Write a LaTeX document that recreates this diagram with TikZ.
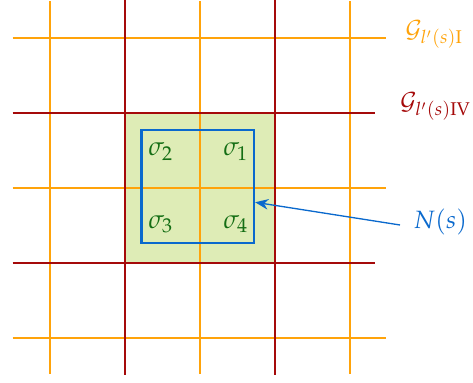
\documentclass[tikz,border=0pt]{standalone}
\usepackage{mathpazo}
\usetikzlibrary{arrows.meta}
\definecolor{gorange}{RGB}{255,163,10}
\definecolor{gred}{RGB}{165,10,10}
\definecolor{gfill}{RGB}{222,236,182}
\definecolor{nblue}{RGB}{10,105,205}
\definecolor{sgreen}{RGB}{20,110,20}
\tikzset{
  olines/.style={gorange, line width=0.85pt},
  rlines/.style={gred, line width=0.85pt},
  sig/.style={text=sgreen, inner sep=0pt},
  lbl/.style={inner sep=0pt, anchor=west},
}
\begin{document}
\begin{tikzpicture}
\useasboundingbox (-0.667,-0.587) rectangle (5.64,4.507);
% green square
\fill[gfill] (1,1) rectangle (3,3);
% orange grid
\foreach \v in {0,2,4} {
  \draw[olines] (\v,-0.48) -- (\v,4.49);
  \draw[olines] (-0.5,\v) -- (4.48,\v);
}
% red grid
\foreach \v in {1,3} {
  \draw[rlines] (\v,-0.49) -- (\v,4.51);
  \draw[rlines] (-0.5,\v) -- (4.33,\v);
}
% blue rect N(s)
\node[draw=nblue, line width=0.85pt, minimum width=1.5cm, minimum height=1.5cm, inner sep=0pt] (box) at (1.97,2.02) {};
\node[sig] (s2) at (1.48,2.49) {$\sigma_2$};
\node[sig] (s1) at (2.48,2.49) {$\sigma_1$};
\node[sig] (s3) at (1.48,1.52) {$\sigma_3$};
\node[sig] (s4) at (2.48,1.52) {$\sigma_4$};
% labels
\node[lbl, text=gorange, font=\fontsize{9}{11}\selectfont] (gI) at (4.73,4.05) {$\mathcal{G}_{l'(s)\mathrm{I}}$};
\node[lbl, text=gred, font=\fontsize{9}{11}\selectfont] (gIV) at (4.66,3.09) {$\mathcal{G}_{l'(s)\mathrm{IV}}$};
\node[lbl, text=nblue, font=\fontsize{9.5}{11}\selectfont] (N) at (4.84,1.547) {$N(s)$};
\coordinate (tgt) at (2.735,1.81);
\coordinate (src) at (4.667,1.507);
\draw[nblue, line width=0.5pt, -{Stealth[length=5pt,width=4pt]}] (src) -- (tgt);
\end{tikzpicture}
\end{document}
